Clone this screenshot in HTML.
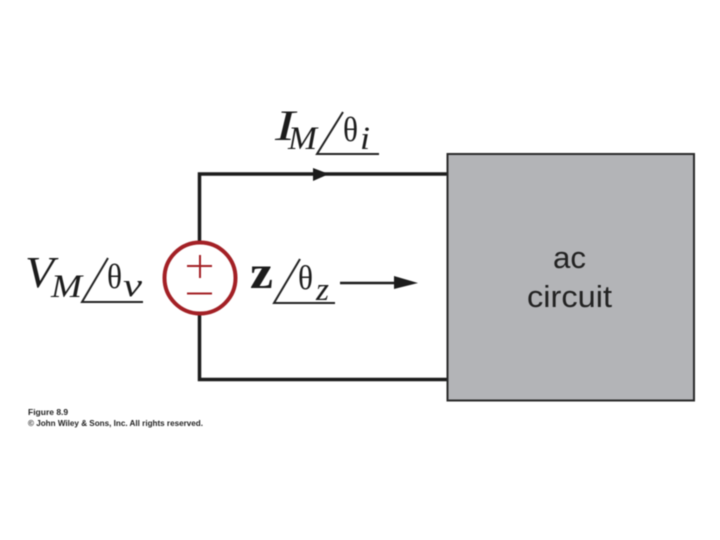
<!DOCTYPE html>
<html><head><meta charset="utf-8"><style>html,body{margin:0;padding:0;background:#fff;width:720px;height:540px;overflow:hidden}svg{display:block}</style></head>
<body><svg width="720" height="540" viewBox="0 0 720 540" xmlns="http://www.w3.org/2000/svg">
<rect width="720" height="540" fill="#fff"/>
<g style="filter:blur(0.4px)">
<path d="M447 174H199.500V379.500H447" fill="none" stroke="#1c1c1c" stroke-width="3.500"/>
<path d="M313 168L329 174L313 181Z" fill="#1c1c1c"/>
<rect x="447.500" y="154" width="246.500" height="246.500" fill="#b3b4b7" stroke="#2a2a2a" stroke-width="2"/>
<text font-family="Liberation Sans, sans-serif" font-size="31" fill="#222"><tspan x="553" y="268" textLength="33" lengthAdjust="spacingAndGlyphs">ac</tspan><tspan x="527" y="307" textLength="85" lengthAdjust="spacingAndGlyphs">circuit</tspan></text>
<circle cx="200" cy="278" r="35.500" fill="#fff" stroke="#a32025" stroke-width="4"/>
<path d="M187 266H212M200 255V278M187 293.500H212" stroke="#a32025" stroke-width="2" fill="none"/>
<g font-family="Liberation Serif, serif" fill="#1c1c1c">
<text x="275" y="140" font-size="43" font-style="italic" textLength="20" lengthAdjust="spacingAndGlyphs">I</text>
<text x="288" y="149" font-size="33" font-style="italic" textLength="29" lengthAdjust="spacingAndGlyphs">M</text>
<text x="343" y="141" font-size="35" textLength="15" lengthAdjust="spacingAndGlyphs">θ</text>
<text x="360" y="149" font-size="33" font-style="italic" textLength="10" lengthAdjust="spacingAndGlyphs">i</text>
<text x="25" y="287" font-size="44" font-style="italic" textLength="29" lengthAdjust="spacingAndGlyphs">V</text>
<text x="51" y="297" font-size="33" font-style="italic" textLength="31" lengthAdjust="spacingAndGlyphs">M</text>
<text x="107" y="288" font-size="35" textLength="15" lengthAdjust="spacingAndGlyphs">θ</text>
<text x="123" y="296" font-size="33" font-style="italic" textLength="19" lengthAdjust="spacingAndGlyphs">v</text>
<text x="250" y="288" font-size="47" font-weight="bold" textLength="23" lengthAdjust="spacingAndGlyphs">z</text>
<text x="298" y="289" font-size="34" textLength="15" lengthAdjust="spacingAndGlyphs">θ</text>
<text x="316" y="300" font-size="33" font-style="italic" textLength="13" lengthAdjust="spacingAndGlyphs">z</text>
</g>
<path d="M343 112L317 154H379" fill="none" stroke="#222" stroke-width="2"/>
<path d="M108 258L82 302H143" fill="none" stroke="#222" stroke-width="2"/>
<path d="M300 259L274 303H335" fill="none" stroke="#222" stroke-width="2"/>
<path d="M340 283H396" stroke="#1c1c1c" stroke-width="2.500"/>
<path d="M394 276L418 283L394 289Z" fill="#1c1c1c"/>
<text font-family="Liberation Sans, sans-serif" font-size="8.500" font-weight="bold" fill="#222"><tspan x="28" y="415">Figure 8.9</tspan><tspan x="28" y="426" textLength="175" lengthAdjust="spacingAndGlyphs">© John Wiley &amp; Sons, Inc. All rights reserved.</tspan></text>
</g>
</svg></body></html>
